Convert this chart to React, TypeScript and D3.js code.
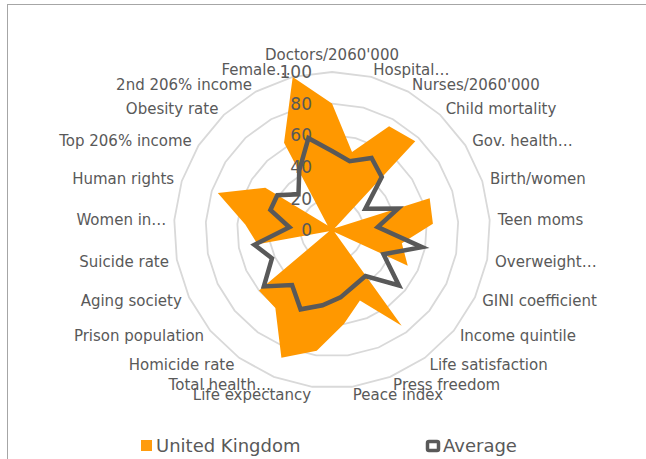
import { useRef, useEffect } from "react";
import * as d3 from "d3";

const categories: string[] = [
    "Doctors/2060'000", "Hospital…", "Nurses/2060'000", "Child mortality", "Gov. health…",
    "Birth/women", "Teen moms", "Overweight…", "GINI coefficient", "Income quintile",
    "Life satisfaction", "Press freedom", "Peace index", "Life expectancy", "Total health…",
    "Homicide rate", "Prison population", "Aging society", "Suicide rate", "Women in…",
    "Human rights", "Top 206% income", "Obesity rate", "2nd 206% income", "Female…",
];

const ukValues: number[] = [80, 51, 75, 77, 2, 65, 64, 45, 53, 2, 75, 48, 60, 77, 87, 61, 60, 2, 48, 55, 76, 50, 4, 63, 100];
const avgValues: number[] = [50, 45, 52, 46, 25, 44, 29, 58, 36, 55, 36, 38, 43, 48, 54, 43, 56, 42, 50, 27, 41, 41, 31, 43, 60];

const tickValues: number[] = [0, 20, 40, 60, 80, 100];
const seriesNames: string[] = ["United Kingdom", "Average"];

const width = 646;
const height = 459;
const textColor = "#595959";
const fontFamily = "'DejaVu Sans', sans-serif";

export default function App() {
    const svgRef = useRef<SVGSVGElement | null>(null);

    useEffect(() => {
        if (!svgRef.current) return;
        const svg = d3.select(svgRef.current);
        svg.selectAll("*").remove();

        const cx = 332, cy = 230, R = 158;
        const n = categories.length;
        const angle = (i: number) => (i * 2 * Math.PI) / n;
        const rScale = d3.scaleLinear().domain([0, 100]).range([0, R]);

        // chart frame (cut off by the window on right/bottom)
        svg.append("rect")
            .attr("x", 7.5).attr("y", 4.5)
            .attr("width", 720).attr("height", 520)
            .attr("fill", "#fff")
            .attr("stroke", "#a6a6a6")
            .attr("stroke-width", 1);

        const defs = svg.append("defs");
        const grad = defs.append("radialGradient")
            .attr("id", "ukFill")
            .attr("gradientUnits", "userSpaceOnUse")
            .attr("cx", cx).attr("cy", cy).attr("r", R);
        grad.append("stop").attr("offset", "0%").attr("stop-color", "#ffc466");
        grad.append("stop").attr("offset", "100%").attr("stop-color", "#ff9800");

        const g = svg.append("g").attr("transform", `translate(${cx},${cy})`);

        const radial = (vals: number[]) =>
            d3.lineRadial<number>()
                .angle((_d, i) => angle(i))
                .radius(d => rScale(d))
                .curve(d3.curveLinearClosed)(vals);

        // grid rings
        g.selectAll(".ring")
            .data(tickValues.filter(t => t > 0))
            .join("path")
            .attr("class", "ring")
            .attr("d", t => radial(categories.map(() => t)))
            .attr("fill", "none")
            .attr("stroke", "#d9d9d9")
            .attr("stroke-width", 1.8);

        // United Kingdom area
        g.append("path")
            .attr("d", radial(ukValues))
            .attr("fill", "url(#ukFill)");

        // Average line
        g.append("path")
            .attr("d", radial(avgValues))
            .attr("fill", "none")
            .attr("stroke", "#595959")
            .attr("stroke-width", 4.5)
            .attr("stroke-linejoin", "miter");

        // tick labels
        g.selectAll(".tick")
            .data(tickValues)
            .join("text")
            .attr("class", "tick")
            .attr("x", -20)
            .attr("y", t => -rScale(t))
            .attr("dy", "0.36em")
            .attr("text-anchor", "end")
            .attr("font-family", fontFamily)
            .attr("font-size", 17)
            .attr("fill", textColor)
            .text(t => t);

        // category labels
        const lr = R + 8;
        g.selectAll(".cat")
            .data(categories)
            .join("text")
            .attr("class", "cat")
            .attr("x", (_d, i) => lr * Math.sin(angle(i)))
            .attr("y", (_d, i) => {
                const c = Math.cos(angle(i));
                return -lr * c - (c > 0.99 ? 9 : 0);
            })
            .attr("dy", "0.36em")
            .attr("text-anchor", (_d, i) => {
                const s = Math.sin(angle(i));
                return s > 0.05 ? "start" : s < -0.05 ? "end" : "middle";
            })
            .attr("font-family", fontFamily)
            .attr("font-size", 15)
            .attr("fill", textColor)
            .text(d => d);

        // legend
        const legend = svg.append("g");
        const lx = [141, 426];
        legend.append("rect")
            .attr("x", lx[0]).attr("y", 440)
            .attr("width", 11).attr("height", 11)
            .attr("fill", "#ff9c0e");
        legend.append("rect")
            .attr("x", lx[1] + 1.5).attr("y", 441.5)
            .attr("width", 11).attr("height", 9)
            .attr("rx", 1.5)
            .attr("fill", "#fff")
            .attr("stroke", "#595959")
            .attr("stroke-width", 3.5);
        legend.selectAll(".ltext")
            .data(seriesNames)
            .join("text")
            .attr("class", "ltext")
            .attr("x", (_d, i) => lx[i] + (i === 0 ? 15 : 17))
            .attr("y", 446)
            .attr("dy", "0.36em")
            .attr("font-family", fontFamily)
            .attr("font-size", 18)
            .attr("fill", textColor)
            .text(d => d);
    }, []);

    return (
        <svg
            ref={svgRef}
            width={width}
            height={height}
            style={{ position: "absolute", left: 0, top: 0, background: "#fff" }}
        />
    );
}
